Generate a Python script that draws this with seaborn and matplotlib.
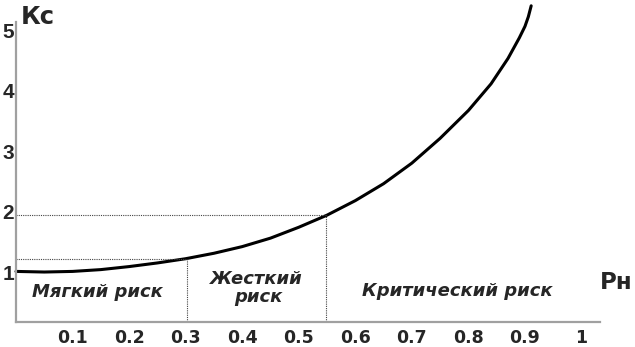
import matplotlib
matplotlib.use("Agg")
import matplotlib.pyplot as plt
import seaborn as sns
import pandas as pd

# ---- data ----
pn = [0.00, 0.05, 0.10, 0.15, 0.20, 0.25, 0.30, 0.35, 0.40, 0.45, 0.50,
      0.55, 0.60, 0.65, 0.70, 0.75, 0.80, 0.84, 0.87, 0.88, 0.89, 0.90, 0.906, 0.911]
ks = [1.01, 1.00, 1.01, 1.04, 1.09, 1.15, 1.22, 1.31, 1.42, 1.56, 1.74,
      1.94, 2.18, 2.46, 2.80, 3.21, 3.67, 4.11, 4.53, 4.70, 4.87, 5.06, 5.22, 5.40]

soft_limit = (0.302, 1.21)   # boundary soft / hard risk
hard_limit = (0.548, 1.95)   # boundary hard / critical risk

x_ticks = [0.1, 0.2, 0.3, 0.4, 0.5, 0.6, 0.7, 0.8, 0.9, 1.0]
x_tick_labels = ["0.1", "0.2", "0.3", "0.4", "0.5", "0.6", "0.7", "0.8", "0.9", "1"]
y_ticks = [1, 2, 3, 4, 5]
y_tick_labels = ["1", "2", "3", "4", "5"]

zone_labels = ["Мягкий риск", "Жесткий\nриск", "Критический риск"]
y_label = "Кс"
x_label = "Рн"

df = pd.DataFrame({"Pn": pn, "Ks": ks})

sns.set_style("white")
plt.rcParams["font.family"] = ["DejaVu Sans"]

W, H = 635, 347
fig = plt.figure(figsize=(W / 100, H / 100), dpi=100)
ax = fig.add_axes([16 / W, (H - 322) / H, (600 - 16) / W, 322 / H])

YMIN = 0.174
sns.lineplot(data=df, x="Pn", y="Ks", ax=ax, color="black", linewidth=2.2,
             estimator=None, sort=False, clip_on=False)

# dotted guide lines
for px, py in (soft_limit, hard_limit):
    ax.plot([0, px], [py, py], color="#444444", linestyle=(0, (1, 1)), linewidth=0.8)
    ax.plot([px, px], [YMIN, py], color="#444444", linestyle=(0, (1, 1)), linewidth=0.8)

ax.set_xlim(0, 1.0327)
ax.set_ylim(YMIN, 5.496)

ax.set_xticks(x_ticks)
ax.set_xticklabels(x_tick_labels, fontsize=12.5, fontweight="bold")
ax.set_yticks(y_ticks)
ax.set_yticklabels(y_tick_labels, fontsize=15, fontweight="bold",
                   family=["Liberation Sans", "DejaVu Sans"])
ax.tick_params(axis="x", direction="in", length=4, width=1.6, color="black", pad=5)
ax.tick_params(axis="y", direction="in", length=4, width=1.6, color="black", pad=1.5)

ax.set_xlabel("")
ax.set_ylabel("")

for s in ("top", "right"):
    ax.spines[s].set_visible(False)
for s in ("left", "bottom"):
    ax.spines[s].set_color("#a0a0a0")
    ax.spines[s].set_linewidth(1.6)
ax.spines["left"].set_bounds(YMIN, 5.13)

# axis titles
fig.text(21 / W, 1 - 24 / H, y_label, fontsize=17.5, fontweight="bold",
         ha="left", va="baseline")
fig.text(633 / W, 1 - 289 / H, x_label, fontsize=16.5, fontweight="bold",
         ha="right", va="baseline")

# zone labels
fig.text(97 / W, 1 - 297 / H, zone_labels[0], fontsize=13, fontweight="bold",
         style="italic", ha="center", va="baseline")
fig.text(255 / W, 1 - 284 / H, zone_labels[1].split("\n")[0], fontsize=13,
         fontweight="bold", style="italic", ha="center", va="baseline")
fig.text(258 / W, 1 - 302 / H, zone_labels[1].split("\n")[1], fontsize=13,
         fontweight="bold", style="italic", ha="center", va="baseline")
fig.text(457 / W, 1 - 296 / H, zone_labels[2], fontsize=13, fontweight="bold",
         style="italic", ha="center", va="baseline")

fig.savefig("out.png", dpi=100)
